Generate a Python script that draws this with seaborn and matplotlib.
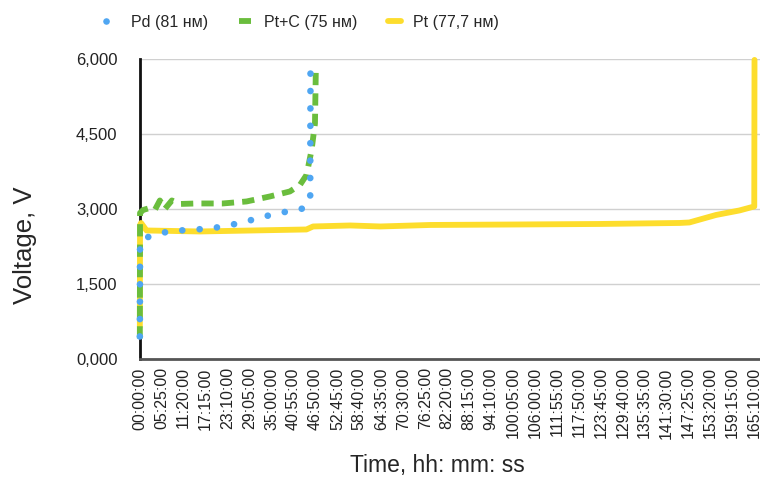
import numpy as np
import pandas as pd
import matplotlib
matplotlib.use("Agg")
import matplotlib.pyplot as plt
import seaborn as sns

# --- dados (tempo em horas, tensão em V) ---
tick_labels = ["00:00:00", "05:25:00", "11:20:00", "17:15:00", "23:10:00", "29:05:00",
               "35:00:00", "40:55:00", "46:50:00", "52:45:00", "58:40:00", "64:35:00",
               "70:30:00", "76:25:00", "82:20:00", "88:15:00", "94:10:00", "100:05:00",
               "106:00:00", "111:55:00", "117:50:00", "123:45:00", "129:40:00", "135:35:00",
               "141:30:00", "147:25:00", "153:20:00", "159:15:00", "165:10:00"]

pd_t = [0.0, 0.05, 1.65, 5.97, 10.27, 14.87, 19.43, 24.03, 28.61, 33.11, 37.70, 42.35, 44.6, 45.42, 45.5]
pd_v = [0.45, 2.35, 2.43, 2.53, 2.57, 2.59, 2.62, 2.68, 2.76, 2.85, 2.93, 2.98, 3.05, 3.23, 5.84]

ptc_t = [0.0, 0.05, 0.81, 2.47, 3.70, 4.94, 6.24, 8.13, 10.27, 14.77, 21.86, 28.27,
         34.55, 39.94, 42.65, 44.43, 45.79, 46.7, 46.94]
ptc_v = [0.41, 2.92, 2.98, 3.02, 2.98, 3.17, 3.0, 3.17, 3.1, 3.11, 3.11, 3.15,
         3.25, 3.35, 3.48, 3.68, 4.18, 4.71, 5.81]

pt_t = [0.0, 0.05, 0.3, 1.65, 15.6, 44.4, 46.2, 56.2, 64.3, 77.8, 102.0, 123.5,
        145.0, 147.6, 154.8, 161.1, 165.1, 165.9]
pt_v = [0.65, 2.68, 2.72, 2.57, 2.55, 2.59, 2.65, 2.67, 2.65, 2.68, 2.69, 2.70,
        2.72, 2.73, 2.88, 2.97, 3.05, 5.98]

y_ticks = [0, 1.5, 3.0, 4.5, 6.0]
y_labels = ["0,000", "1,500", "3,000", "4,500", "6,000"]

# eixo categórico: cada rótulo ocupa uma posição igual
tick_hours = [int(s.split(":")[0]) + int(s.split(":")[1]) / 60 for s in tick_labels]
def to_pos(t):
    return np.interp(t, tick_hours, np.arange(len(tick_hours)))

sns.set_theme(style="white")
plt.rcParams['font.family'] = ['Liberation Sans', 'DejaVu Sans']

fig = plt.figure(figsize=(7.6, 4.79), dpi=100)
ax = fig.add_axes([0.184, 0.2505, 0.816, 0.6265])

# nome, tempo, tensão, cor, estilo, espessura
series = [
    ("Pd (81 нм)", pd_t, pd_v, "#4fa6f2", (0, (0.01, 2.6)), 4.8),
    ("Pt+C (75 нм)", ptc_t, ptc_v, "#6abd3d", (0, (2.1, 1.4)), 4.2),
    ("Pt (77,7 нм)", pt_t, pt_v, "#fddd2d", "-", 4.2),
]

# desenha Pt primeiro (fica por baixo), legenda na ordem original
handles = {}
for name, t, v, cor, estilo, lw in series[::-1]:
    df = pd.DataFrame({"x": to_pos(t), "y": v})
    sns.lineplot(data=df, x="x", y="y", sort=False, estimator=None, ax=ax,
                 color=cor, linewidth=lw, linestyle=estilo)
    ln = ax.lines[-1]
    ln.set_dash_capstyle("round" if name.startswith("Pd") else "butt")
    ln.set_zorder(3)
    ln.set_clip_on(False)
    handles[name] = ln

ax.set_xlim(0, 28.25)
ax.set_ylim(0, 6.0)
ax.set_xticks(range(len(tick_labels)))
ax.set_xticklabels(tick_labels, rotation=90, fontsize=11.5)
ax.set_yticks(y_ticks)
ax.set_yticklabels(y_labels, fontsize=12)
ax.tick_params(axis="x", length=0, pad=6, colors="#222222")
ax.tick_params(axis="y", length=0, pad=16, colors="#222222")
ax.yaxis.grid(True, color="#d0d0d0", linewidth=1)
ax.set_axisbelow(True)
for s in ["top", "right"]:
    ax.spines[s].set_visible(False)
ax.spines["left"].set_color("#111111")
ax.spines["left"].set_linewidth(2)
ax.spines["bottom"].set_color("#555555")
ax.spines["bottom"].set_linewidth(2)

ax.set_xlabel("Time, hh: mm: ss", fontsize=16.5)
ax.xaxis.set_label_coords(0.48, -0.315)
ax.set_ylabel("Voltage, V", fontsize=18.5)
ax.yaxis.set_label_coords(-0.185, 0.38)
ax.yaxis.label.set_va("center")
ax.xaxis.label.set_va("top")

nomes = [s[0] for s in series]
fig.legend([handles[n] for n in nomes], nomes, loc="center", bbox_to_anchor=(0.398, 0.954),
           ncol=3, frameon=False, handlelength=0.8, columnspacing=1.9, handletextpad=0.8,
           fontsize=11.5)

plt.savefig("out.png", dpi=100)
